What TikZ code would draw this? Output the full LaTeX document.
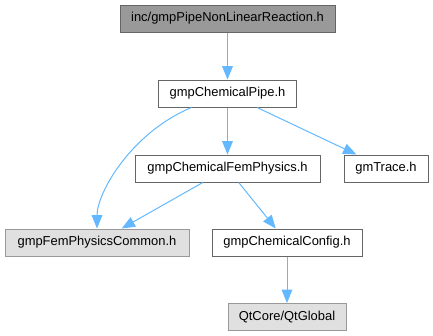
\documentclass[tikz,border=0pt]{standalone}
\usepackage{fontspec}
\setmainfont{Liberation Sans}
\usetikzlibrary{arrows.meta}
\definecolor{edgeblue}{HTML}{63B8FF}
\definecolor{boxgray}{HTML}{E0E0E0}
\definecolor{topgray}{HTML}{999999}

\begin{document}
\begin{tikzpicture}[x=0.75pt, y=-0.75pt,
    file/.style={draw=black!60, fill=white, line width=0.75pt, minimum height=20.25pt, inner sep=0pt,
        font=\fontsize{9.7}{11.6}\selectfont},
    extfile/.style={file, draw=topgray, fill=boxgray},
    mainfile/.style={file, fill=topgray},
    inc/.style={-{Triangle[length=10pt, width=8pt]}, edgeblue, line width=0.75pt}]
    \useasboundingbox (0,0) rectangle (433,336);
    % Files
    \node[mainfile, minimum width=161.25pt] (main) at (227.5,18.5) {inc/gmpPipeNonLinearReaction.h};
    \node[file, minimum width=103.5pt] (pipe) at (227.5,93.5) {gmpChemicalPipe.h};
    \node[file, minimum width=138.75pt] (femphys) at (227.5,168.5) {gmpChemicalFemPhysics.h};
    \node[file, minimum width=63pt] (trace) at (386,168.5) {gmTrace.h};
    \node[extfile, minimum width=138pt] (common) at (97,242.5) {gmpFemPhysicsCommon.h};
    \node[file, minimum width=112.5pt] (config) at (287,242.5) {gmpChemicalConfig.h};
    \node[extfile, minimum width=88.5pt] (qt) at (287,317) {QtCore/QtGlobal};
    % Includes
    \draw[inc] (main) -- (pipe);
    \draw[inc] (pipe) -- (femphys);
    \draw[inc] (pipe) -- (trace);
    \draw[inc] ([xshift=-27pt]pipe.south) .. controls +(-60,25) and +(0,-50) .. (common);
    \draw[inc] (femphys) -- (common);
    \draw[inc] (femphys) -- (config);
    \draw[inc] (config) -- (qt);
\end{tikzpicture}
\end{document}
